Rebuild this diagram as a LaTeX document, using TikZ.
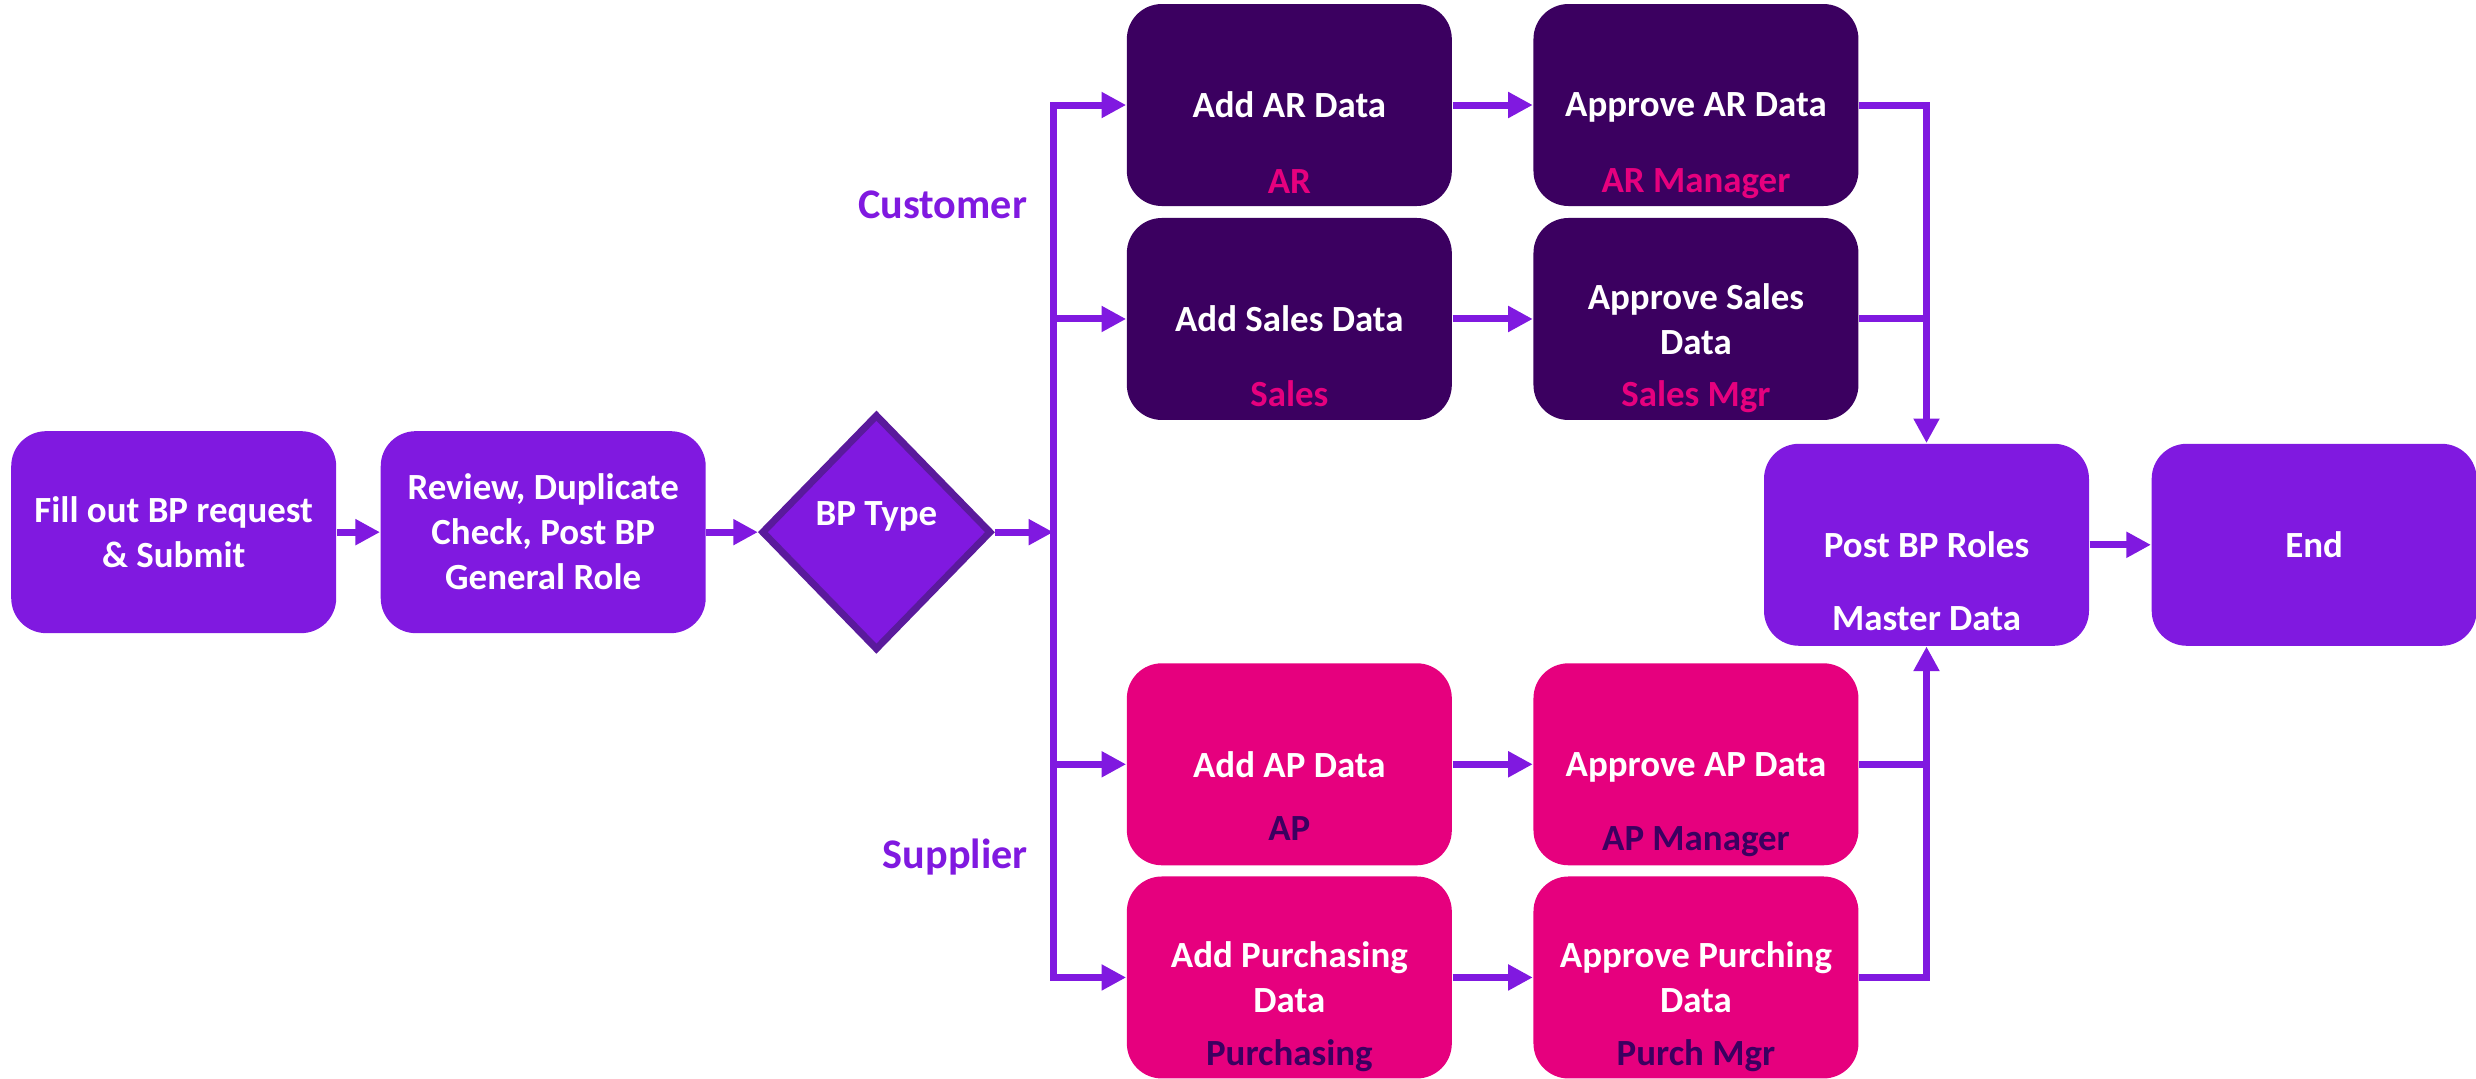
\documentclass[tikz,border=0pt]{standalone}
\usepackage{fontspec}
\setmainfont{Carlito}
\usetikzlibrary{positioning,shapes.geometric,calc,arrows.meta}
\definecolor{bpviolet}{HTML}{8019E0}
\definecolor{bpdark}{HTML}{3B0060}
\definecolor{bppink}{HTML}{E6007E}
\definecolor{bpedge}{HTML}{5A1A9C}

\begin{document}
\begin{tikzpicture}[x=0.01579cm,y=-0.01579cm,
  box/.style={rounded corners=0.35cm,minimum width=3.25cm,minimum height=2.02cm,
    inner sep=0pt,align=center,text=white,font=\bfseries\fontsize{10.5}{12.8}\selectfont},
  lbox/.style={box,fill=bpviolet},
  dbox/.style={box,fill=bpdark},
  pbox/.style={box,fill=bppink},
  flat/.style={text depth=0pt},
  role/.style={anchor=base,inner sep=0pt,font=\bfseries\fontsize{10.5}{12.8}\selectfont},
  side/.style={text=bpviolet,font=\bfseries\fontsize{12}{14}\selectfont},
  flow/.style={draw=bpviolet,line width=2pt,-{Triangle[length=7pt,width=7pt]}},
  link/.style={draw=bpviolet,line width=2pt}]
  \useasboundingbox (0,0) rectangle (1568,682.7);

  \node[lbox] (fill) at (110,337) {Fill out BP request\\\& Submit};
  \node[lbox] (review) at (344,337) {Review, Duplicate\\Check, Post BP\\General Role};
  \node[diamond,fill=bpviolet,draw=bpedge,line width=2pt,minimum width=2.3cm,
    minimum height=2.36cm,inner sep=0pt] (bptype) at (555,337) {};
  \node[text=white,text depth=0pt,font=\bfseries\fontsize{10.5}{12.8}\selectfont] (bptext) at (555,325) {BP Type};
  \coordinate (bus) at (667,337);

  \node[side] (cust) at (597,130) {Customer};
  \node[side] (supp) at (605,543) {Supplier};

  \node[dbox,flat] (addar) at (816.5,66.5) {Add AR Data};
  \node[dbox,flat] (appar) at (1074,66.5) {Approve AR Data};
  \node[dbox,flat] (addsales) at (816.5,202) {Add Sales Data};
  \node[dbox] (appsales) at (1074,202) {Approve Sales\\Data};
  \node[pbox,flat] (addap) at (816.5,484) {Add AP Data};
  \node[pbox,flat] (appap) at (1074,484) {Approve AP Data};
  \node[pbox] (addpur) at (816.5,619) {Add Purchasing\\Data};
  \node[pbox] (apppur) at (1074,619) {Approve Purching\\Data};
  \node[lbox,flat] (post) at (1220,345) {Post BP Roles};
  \node[lbox,flat] (end) at (1465.5,345) {End};

  \node[role,text=bppink] (arrole) at ([yshift=0.133cm]addar.south) {AR};
  \node[role,text=bppink] (armgr) at ([yshift=0.14cm]appar.south) {AR Manager};
  \node[role,text=bppink] (salesrole) at ([yshift=0.14cm]addsales.south) {Sales};
  \node[role,text=bppink] (salesmgr) at ([yshift=0.14cm]appsales.south) {Sales Mgr};
  \node[role,text=bpdark] (aprole) at ([yshift=0.25cm]addap.south) {AP};
  \node[role,text=bpdark] (apmgr) at ([yshift=0.15cm]appap.south) {AP Manager};
  \node[role,text=bpdark] (purrole) at ([yshift=0.136cm]addpur.south) {Purchasing};
  \node[role,text=bpdark] (purmgr) at ([yshift=0.136cm]apppur.south) {Purch Mgr};
  \node[role,text=white] (master) at ([yshift=0.16cm]post.south) {Master Data};

  \draw[flow] (fill) -- (review);
  \draw[flow] (review) -- (bptype);
  \draw[flow] (bptype) -- (bus);
  \foreach \n in {addar,addsales,addap,addpur}
    \draw[flow] (bus) |- (\n);
  \foreach \a/\b in {addar/appar,addsales/appsales,addap/appap,addpur/apppur}
    \draw[flow] (\a) -- (\b);
  \draw[flow] (appar) -| (post);
  \draw[link] (appsales.east) -- (appsales.east -| post.north);
  \draw[flow] (apppur) -| (post);
  \draw[link] (appap.east) -- (appap.east -| post.south);
  \draw[flow] (post) -- (end);
\end{tikzpicture}
\end{document}
